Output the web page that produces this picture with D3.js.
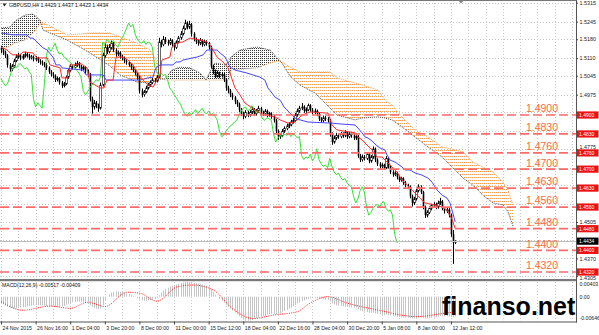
<!DOCTYPE html>
<html><head><meta charset="utf-8">
<script src="https://cdn.jsdelivr.net/npm/d3@7"></script>
<style>body{margin:0;background:#fff}svg{display:block}</style>
</head><body><svg id="c" width="599" height="335"></svg>
<script>
// ---------- data ----------
const title = "GBPUSD,H4 1.4429 1.4437 1.4423 1.4434";
const macdTitle = "MACD(12,26,9) -0.00517 -0.00409";
const firstOpen = 1.5148;
const closes = [1.5140,1.5132,1.5120,1.5085,1.5070,1.5080,1.5100,1.5115,1.5120,1.5110,
1.5118,1.5125,1.5120,1.5112,1.5115,1.5105,1.5110,1.5100,1.5095,1.5090,
1.5085,1.5075,1.5060,1.5050,1.5045,1.5030,1.5035,1.5020,1.5008,1.5015,
1.5040,1.5065,1.5080,1.5075,1.5085,1.5090,1.5080,1.5070,1.5075,1.5060,
1.5050,1.4960,1.4930,1.4945,1.4935,1.4925,1.5010,1.5120,1.5150,1.5135,
1.5150,1.5165,1.5140,1.5125,1.5130,1.5115,1.5110,1.5100,1.5095,1.5085,
1.5075,1.5065,1.5055,1.5040,1.4990,1.4975,1.4985,1.5000,1.5010,1.5020,
1.5030,1.5025,1.5040,1.5170,1.5160,1.5180,1.5170,1.5165,1.5175,1.5160,
1.5150,1.5170,1.5185,1.5200,1.5220,1.5240,1.5225,1.5235,1.5200,1.5180,
1.5170,1.5165,1.5175,1.5160,1.5170,1.5165,1.5150,1.5080,1.5060,1.5045,
1.5055,1.5045,1.5050,1.5030,1.5000,1.4990,1.4975,1.4965,1.4950,1.4940,
1.4920,1.4905,1.4895,1.4910,1.4900,1.4910,1.4920,1.4905,1.4915,1.4925,
1.4910,1.4905,1.4915,1.4900,1.4905,1.4895,1.4880,1.4840,1.4820,1.4825,
1.4840,1.4850,1.4860,1.4865,1.4875,1.4880,1.4900,1.4915,1.4925,1.4930,
1.4915,1.4920,1.4935,1.4920,1.4910,1.4915,1.4905,1.4885,1.4880,1.4890,
1.4885,1.4880,1.4830,1.4800,1.4815,1.4825,1.4820,1.4830,1.4825,1.4835,
1.4820,1.4830,1.4825,1.4815,1.4820,1.4750,1.4735,1.4745,1.4740,1.4755,
1.4730,1.4745,1.4775,1.4735,1.4720,1.4710,1.4715,1.4705,1.4740,1.4710,
1.4690,1.4680,1.4685,1.4670,1.4660,1.4665,1.4650,1.4640,1.4635,1.4600,
1.4575,1.4590,1.4620,1.4635,1.4615,1.4560,1.4530,1.4540,1.4555,1.4565,
1.4570,1.4560,1.4575,1.4580,1.4555,1.4545,1.4550,1.4530,1.4460,1.4429,
1.4434];
const highs = [1.5155,1.5148,1.5138,1.5125,1.5092,1.5088,1.5108,1.5124,1.5130,1.5126,
1.5125,1.5134,1.5130,1.5126,1.5122,1.5120,1.5118,1.5115,1.5106,1.5102,
1.5096,1.5092,1.5080,1.5066,1.5058,1.5050,1.5042,1.5040,1.5026,1.5022,
1.5046,1.5072,1.5088,1.5086,1.5094,1.5100,1.5096,1.5085,1.5084,1.5080,
1.5068,1.5055,1.4968,1.4955,1.4952,1.4942,1.5020,1.5130,1.5165,1.5160,
1.5162,1.5175,1.5170,1.5146,1.5138,1.5135,1.5122,1.5116,1.5106,1.5100,
1.5090,1.5080,1.5070,1.5060,1.5045,1.4998,1.4992,1.5008,1.5018,1.5028,
1.5038,1.5036,1.5048,1.5185,1.5178,1.5192,1.5188,1.5178,1.5184,1.5180,
1.5166,1.5176,1.5192,1.5210,1.5230,1.5252,1.5246,1.5248,1.5240,1.5206,
1.5186,1.5178,1.5184,1.5180,1.5178,1.5176,1.5170,1.5156,1.5086,1.5068,
1.5064,1.5060,1.5058,1.5055,1.5036,1.5008,1.4996,1.4982,1.4970,1.4956,
1.4946,1.4926,1.4912,1.4918,1.4916,1.4918,1.4930,1.4926,1.4922,1.4934,
1.4930,1.4916,1.4922,1.4920,1.4912,1.4910,1.4900,1.4886,1.4846,1.4834,
1.4848,1.4858,1.4868,1.4874,1.4882,1.4890,1.4908,1.4924,1.4934,1.4944,
1.4936,1.4928,1.4942,1.4940,1.4926,1.4924,1.4920,1.4910,1.4892,1.4898,
1.4896,1.4892,1.4886,1.4836,1.4824,1.4834,1.4832,1.4838,1.4836,1.4844,
1.4840,1.4838,1.4836,1.4832,1.4828,1.4826,1.4756,1.4754,1.4752,1.4762,
1.4760,1.4752,1.4784,1.4780,1.4740,1.4726,1.4722,1.4720,1.4748,1.4745,
1.4716,1.4696,1.4692,1.4690,1.4676,1.4672,1.4670,1.4656,1.4646,1.4640,
1.4606,1.4598,1.4628,1.4644,1.4640,1.4620,1.4566,1.4548,1.4562,1.4572,
1.4578,1.4576,1.4584,1.4594,1.4586,1.4560,1.4558,1.4556,1.4536,1.4475,
1.4437];
const lows = [1.5128,1.5122,1.5110,1.5075,1.5060,1.5062,1.5074,1.5095,1.5108,1.5102,
1.5104,1.5112,1.5112,1.5104,1.5105,1.5098,1.5098,1.5092,1.5086,1.5082,
1.5076,1.5066,1.5052,1.5042,1.5036,1.5022,1.5024,1.5012,1.5000,1.5002,
1.5010,1.5034,1.5060,1.5068,1.5070,1.5078,1.5072,1.5062,1.5064,1.5052,
1.5040,1.4950,1.4905,1.4920,1.4925,1.4912,1.4920,1.5005,1.5112,1.5125,
1.5128,1.5142,1.5132,1.5115,1.5118,1.5108,1.5102,1.5092,1.5086,1.5078,
1.5066,1.5058,1.5046,1.5030,1.4980,1.4965,1.4968,1.4980,1.4994,1.5004,
1.5014,1.5018,1.5020,1.5035,1.5150,1.5154,1.5162,1.5156,1.5158,1.5150,
1.5138,1.5144,1.5164,1.5178,1.5194,1.5214,1.5216,1.5218,1.5190,1.5172,
1.5162,1.5156,1.5158,1.5152,1.5154,1.5156,1.5142,1.5072,1.5050,1.5036,
1.5038,1.5036,1.5038,1.5022,1.4990,1.4980,1.4966,1.4956,1.4940,1.4930,
1.4910,1.4896,1.4884,1.4888,1.4892,1.4894,1.4904,1.4898,1.4898,1.4908,
1.4902,1.4896,1.4898,1.4892,1.4894,1.4886,1.4872,1.4832,1.4808,1.4812,
1.4818,1.4834,1.4844,1.4852,1.4858,1.4868,1.4874,1.4894,1.4908,1.4918,
1.4908,1.4908,1.4914,1.4912,1.4902,1.4904,1.4896,1.4878,1.4872,1.4874,
1.4878,1.4872,1.4820,1.4790,1.4794,1.4808,1.4812,1.4814,1.4816,1.4818,
1.4812,1.4814,1.4816,1.4808,1.4808,1.4742,1.4726,1.4728,1.4732,1.4734,
1.4722,1.4724,1.4738,1.4726,1.4712,1.4702,1.4704,1.4698,1.4700,1.4702,
1.4682,1.4672,1.4674,1.4662,1.4652,1.4654,1.4642,1.4632,1.4626,1.4592,
1.4562,1.4568,1.4584,1.4614,1.4608,1.4552,1.4520,1.4522,1.4534,1.4548,
1.4558,1.4552,1.4554,1.4568,1.4548,1.4536,1.4538,1.4522,1.4450,1.4350,
1.4423];
// Ichimoku lines, [bar, price]
const tenkan = [[0,1.5151],[2.8,1.5140],[4.2,1.5129],[5.5,1.5122],[8.8,1.5122],[10.2,1.5133],[14.8,1.5129],[16.6,1.5111],[21.3,1.5111],[22.7,1.5085],[27.3,1.5074],[28.2,1.5037],[30.5,1.5037],[31.9,1.5085],[35.1,1.5085],[36.5,1.5092],[39.8,1.5074],[41.1,1.5022],[45.8,1.5000],[47.6,1.5000],[49,1.5029],[51.8,1.5029],[53.2,1.5114],[56.4,1.5114],[58.7,1.5103],[61,1.5085],[62.9,1.5059],[65.6,1.5029],[68,1.5011],[70.3,1.5003],[72.1,1.5029],[73.5,1.5048],[74.4,1.5103],[78.1,1.5114],[79,1.5151],[81.4,1.5166],[84.1,1.5170],[87.4,1.5184],[92,1.5177],[95.2,1.5170],[96.6,1.5159],[98,1.5140],[99.9,1.5114],[102.6,1.5096],[105,1.5074],[108.2,1.5000],[110.5,1.4974],[112.8,1.4944],[116,1.4926],[118.8,1.4911],[122,1.4900],[126.7,1.4893],[129,1.4882],[132.7,1.4870],[135.9,1.4874],[139.2,1.4900],[142.9,1.4911],[151.2,1.4907],[153,1.4863],[155.3,1.4845],[161.3,1.4837],[163.7,1.4834],[165,1.4819],[166.9,1.4808],[169.2,1.4789],[171.5,1.4771],[173.8,1.4745],[176.1,1.4745],[178.5,1.4726],[180.8,1.4708],[183.1,1.4689],[185.4,1.4660],[188.2,1.4638],[191.4,1.4612],[193.7,1.4593],[196,1.4575],[200.6,1.4568],[203.9,1.4560],[206.2,1.4549],[208.5,1.4515],[210,1.4480]];
const kijun = [[0,1.5203],[5.5,1.5196],[12,1.5196],[13.4,1.5184],[14.8,1.5184],[16.6,1.5170],[19.4,1.5148],[21.3,1.5140],[24,1.5114],[25.4,1.5085],[27.3,1.5085],[28.2,1.5074],[37.9,1.5066],[39.3,1.5048],[47.2,1.5048],[48.6,1.5029],[64.3,1.5029],[68,1.5037],[70.3,1.5040],[71.2,1.5066],[72.1,1.5077],[73.5,1.5085],[79.5,1.5085],[80.9,1.5096],[82.8,1.5096],[84.1,1.5103],[88.8,1.5111],[90.6,1.5114],[93.4,1.5122],[95.2,1.5140],[99.9,1.5140],[101.3,1.5129],[103.6,1.5114],[105.9,1.5077],[108.2,1.5066],[113.7,1.5055],[119.7,1.5040],[122,1.5029],[123.4,1.5000],[125.3,1.4981],[126.7,1.4966],[129,1.4955],[129.9,1.4944],[130.8,1.4930],[133.6,1.4907],[135.9,1.4889],[138.2,1.4882],[141.9,1.4874],[153,1.4870],[156.7,1.4867],[163.7,1.4863],[165,1.4852],[166.9,1.4834],[168.3,1.4819],[169.7,1.4815],[171.5,1.4804],[173.4,1.4789],[175.2,1.4778],[177.5,1.4771],[178.5,1.4752],[179.8,1.4734],[182.2,1.4726],[185.4,1.4708],[186.8,1.4697],[189.1,1.4697],[191.4,1.4686],[194.6,1.4678],[197.4,1.4667],[199.3,1.4652],[201.6,1.4623],[203.9,1.4604],[206.2,1.4593],[207.6,1.4575],[208.5,1.4549],[210,1.4505]];
const chikouShift = 26;
const kumoBars = [0,4.2,6.5,11.1,14.8,18,19.4,22.7,30.5,36.5,41.1,50.4,55,62.9,68.9,72.1,74,75.8,79,82.8,87.4,92,94.8,96.6,98.9,103.6,105.4,106.3,110.5,118.4,124.4,127.6,129.9,133.6,138.2,145.2,152.1,155.3,163.7,166.9,174.3,177.5,180.8,185.4,191.4,197.4,203.9,209.9,213.6,218.2,222.8,227.5,232.1,234.4,236.7];
const spanA = [1.5221,1.5225,1.5247,1.5269,1.5273,1.5251,1.5214,1.5203,1.5177,1.5151,1.5129,1.5081,1.5048,1.5022,1.5018,1.5029,1.5033,1.5033,1.5066,1.5077,1.5074,1.5055,1.5029,1.5059,1.5092,1.5085,1.5096,1.5114,1.5140,1.5151,1.5140,1.5111,1.5092,1.5044,1.5011,1.4981,1.4926,1.4900,1.4882,1.4889,1.4893,1.4889,1.4882,1.4856,1.4819,1.4782,1.4745,1.4697,1.4667,1.4641,1.4604,1.4575,1.4568,1.4542,1.4490];
const spanB = [1.5140,1.5155,1.5166,1.5177,1.5203,1.5236,1.5240,1.5229,1.5196,1.5199,1.5203,1.5203,1.5188,1.5166,1.5140,1.5096,1.5037,1.5029,1.5029,1.5029,1.5029,1.5029,1.5029,1.5029,1.5029,1.5029,1.5029,1.5066,1.5070,1.5074,1.5092,1.5099,1.5096,1.5077,1.5059,1.5059,1.5059,1.5037,1.5018,1.5011,1.4992,1.4955,1.4937,1.4893,1.4845,1.4819,1.4782,1.4771,1.4763,1.4726,1.4708,1.4689,1.4652,1.4623,1.4568];
// MACD
const macdMain = [-0.0017,-0.0020,-0.0023,-0.0026,-0.0029,
-0.0031,-0.0032,-0.0031,-0.0030,-0.0029,-0.0028,-0.0027,-0.0026,-0.0025,-0.0024,-0.0023,
-0.0022,-0.0022,-0.0023,-0.0023,-0.0024,-0.0025,-0.0026,-0.0027,-0.0027,-0.0028,-0.0028,-0.0027,-0.0026,-0.0024,-0.0021,
-0.0019,-0.0017,-0.0015,-0.0014,-0.0013,-0.0013,-0.0013,-0.0014,-0.0015,-0.0016,
-0.0022,-0.0027,-0.0030,-0.0032,-0.0033,-0.0031,-0.0022,
-0.0010,0.0000,0.0006,0.0011,0.0013,0.0014,0.0014,0.0013,0.0012,0.0011,0.0009,0.0007,0.0005,
0.0002,-0.0001,-0.0004,-0.0007,-0.0010,-0.0011,-0.0011,-0.0010,-0.0009,-0.0008,-0.0006,-0.0004,
0.0004,0.0011,0.0017,0.0021,0.0024,0.0027,0.0029,0.0030,0.0032,0.0034,0.0036,0.0038,0.0040,0.0040,0.0039,0.0038,0.0037,0.0036,0.0035,0.0034,
0.0032,0.0030,0.0029,0.0027,0.0020,0.0012,0.0005,0.0000,
-0.0006,-0.0011,-0.0016,-0.0022,-0.0027,-0.0032,-0.0037,-0.0042,-0.0047,-0.0052,-0.0057,-0.0061,
-0.0064,-0.0064,-0.0063,-0.0062,-0.0060,-0.0058,-0.0056,-0.0054,
-0.0052,-0.0050,-0.0048,-0.0046,-0.0045,-0.0046,-0.0047,-0.0046,-0.0044,-0.0041,-0.0038,-0.0035,-0.0032,-0.0029,-0.0026,
-0.0022,-0.0018,-0.0015,-0.0012,-0.0010,-0.0008,-0.0006,-0.0005,-0.0004,-0.0004,-0.0004,-0.0005,-0.0006,-0.0007,-0.0008,-0.0009,-0.0013,
-0.0018,-0.0021,-0.0023,-0.0024,-0.0025,-0.0026,-0.0027,-0.0027,-0.0028,-0.0028,-0.0029,-0.0029,-0.0033,-0.0037,-0.0039,-0.0040,-0.0041,-0.0043,
-0.0043,-0.0042,-0.0044,-0.0046,-0.0047,-0.0048,-0.0049,-0.0048,-0.0049,-0.0050,-0.0051,-0.0052,-0.0053,-0.0054,-0.0055,-0.0055,-0.0056,-0.0056,-0.0057,-0.0058,
-0.0058,-0.0057,-0.0056,-0.0056,-0.0057,-0.0058,-0.0058,-0.0057,-0.0056,-0.0055,-0.0054,-0.0053,-0.0052,-0.0052,-0.0052,-0.0052,-0.0053,-0.0054,-0.0055,-0.00517];
const macdSignal = [[0,-0.0013],[10.2,-0.0036],[22.7,-0.0025],[31.9,-0.0031],[40.2,-0.0015],[48.1,-0.0026],[58.3,0.0012],[64.3,0.0009],[72.1,-0.0012],[81.4,0.0026],[88.8,0.0031],[98,0.0018],[107.3,-0.0033],[116.5,-0.0058],[125.8,-0.0049],[136.9,-0.0040],[142.9,-0.0017],[151.2,0.0000],[160,-0.0017],[173.8,-0.0035],[192.3,-0.0053],[206.2,-0.0043],[210,-0.00409]];
const macdTicks = [0.00403, 0, -0.00646];
const macdTickLabels = ["0.00403","0.00","-0.00646"];
// levels & axes
const levels = [1.4900,1.4830,1.4760,1.4700,1.4630,1.4560,1.4480,1.4400,1.4320];
const priceTicks = [1.5315,1.5245,1.5180,1.5110,1.5045,1.4975,1.4910,1.4840,1.4775,1.4705,1.4640,1.4570,1.4505,1.4440,1.4370,1.4305];
const currentPrice = 1.4434;
const timeBars = [0,16,32,48,64,80,96,112,128,144,160,176,192,208];
const timeLabels = ["24 Nov 2015","26 Nov 16:00","1 Dec 04:00","3 Dec 20:00","8 Dec 00:00","11 Dec 00:00","15 Dec 12:00","18 Dec 04:00","22 Dec 16:00","28 Dec 04:00","30 Dec 20:00","5 Jan 08:00","8 Jan 00:00","12 Jan 12:00"];
const watermark = "finanso.net";

// ---------- drawing ----------
const FONT = "'Liberation Sans', Arial, sans-serif";
const svg = d3.select("#c");
const plotR = 576, mainB = 279, macdT = 281.5, macdB = 321.5;
const x = d3.scaleLinear().domain([0, 208]).range([1, 1 + 208 * 2.163]);
const y = d3.scaleLinear().domain([1.42942, 1.53248]).range([279, 0]);
const ym = d3.scaleLinear().domain([-0.00646, 0.00403]).range([321, 281.5]);
const cx = v => Math.round(v) + 0.5;

svg.append("rect").attr("width", 599).attr("height", 335).attr("fill", "#fff");
const defs = svg.append("defs");
defs.append("clipPath").attr("id", "cm").append("rect").attr("x", 0).attr("y", 0).attr("width", plotR).attr("height", mainB);
defs.append("clipPath").attr("id", "cd").append("rect").attr("x", 0).attr("y", macdT).attr("width", plotR).attr("height", macdB - macdT);
function pat(id, color, w, h) {
  const p = defs.append("pattern").attr("id", id).attr("patternUnits", "userSpaceOnUse").attr("width", w).attr("height", h);
  p.append("rect").attr("width", 1).attr("height", 1).attr("fill", color);
}
pat("po", "#f4a050", 2, 3);
pat("pk", "#333", 2, 2);

// grid
const gridBars = d3.range(0, 266, 8);
const grid = svg.append("g").attr("stroke", "#c6c6c6").attr("stroke-dasharray", "1,2");
grid.selectAll("line.v").data(gridBars).join("line").attr("class", "v")
  .attr("x1", d => cx(x(d))).attr("x2", d => cx(x(d))).attr("y1", 0).attr("y2", macdB);
grid.selectAll("line.h").data(priceTicks).join("line").attr("class", "h")
  .attr("x1", 0).attr("x2", plotR).attr("y1", d => cx(y(d))).attr("y2", d => cx(y(d)));

const main = svg.append("g").attr("clip-path", "url(#cm)");

// cloud
const kumo = kumoBars.map((b, i) => ({ b, a: spanA[i], s: spanB[i] }));
main.append("path").datum(kumo).attr("fill", "url(#po)")
  .attr("d", d3.area().x(d => x(d.b)).y0(d => y(d.a)).y1(d => y(Math.max(d.a, d.s))));
main.append("path").datum(kumo).attr("fill", "url(#pk)")
  .attr("d", d3.area().x(d => x(d.b)).y0(d => y(d.s)).y1(d => y(Math.max(d.a, d.s))));
main.append("path").datum(kumo).attr("fill", "none").attr("stroke", "#f4a050").attr("stroke-dasharray", "1,1")
  .attr("d", d3.line().x(d => x(d.b)).y(d => y(d.s)));
main.append("path").datum(kumo).attr("fill", "none").attr("stroke", "#444").attr("stroke-dasharray", "1,1")
  .attr("d", d3.line().x(d => x(d.b)).y(d => y(d.a)));

// candles
const opens = closes.map((c, i) => i ? closes[i - 1] : firstOpen);
const cg = main.append("g");
cg.selectAll("line").data(closes).join("line")
  .attr("x1", (d, i) => cx(x(i))).attr("x2", (d, i) => cx(x(i)))
  .attr("y1", (d, i) => y(highs[i])).attr("y2", (d, i) => y(lows[i]))
  .attr("stroke", "#000").attr("stroke-width", 1);
cg.selectAll("rect").data(closes).join("rect")
  .attr("x", (d, i) => cx(x(i)) - 0.8).attr("width", 1.6)
  .attr("y", (d, i) => y(Math.max(d, opens[i])))
  .attr("height", (d, i) => Math.max(0.8, Math.abs(y(d) - y(opens[i]))))
  .attr("fill", (d, i) => d >= opens[i] ? "#fff" : "#000")
  .attr("stroke", "#000").attr("stroke-width", (d, i) => d >= opens[i] ? 0.6 : 0);

// ichimoku lines
const pl = d3.line().x(d => x(d[0])).y(d => y(d[1]));
main.append("path").datum(closes.slice(chikouShift).map((c, j) => [j, c]))
  .attr("fill", "none").attr("stroke", "#33e033").attr("stroke-width", 1).attr("d", pl);
main.append("path").datum(kijun).attr("fill", "none").attr("stroke", "#4646ff").attr("stroke-width", 1).attr("d", pl);
main.append("path").datum(tenkan).attr("fill", "none").attr("stroke", "#ff2c2c").attr("stroke-width", 1).attr("d", pl);

// current price line
svg.append("line").attr("x1", 0).attr("x2", plotR).attr("y1", cx(y(currentPrice))).attr("y2", cx(y(currentPrice)))
  .attr("stroke", "#bdbdbd").attr("stroke-width", 1);

// level lines & labels
const lv = svg.append("g");
lv.selectAll("line").data(levels).join("line")
  .attr("x1", 0).attr("x2", plotR).attr("y1", d => y(d)).attr("y2", d => y(d))
  .attr("stroke", "#ff6b6b").attr("stroke-width", 1.7).attr("stroke-dasharray", "9,4");
lv.selectAll("text").data(levels).join("text")
  .attr("x", 558).attr("y", d => y(d) - 2.6).attr("text-anchor", "end")
  .attr("font-family", FONT).attr("font-size", 10.5).attr("fill", "#fa6a3c")
  .text(d => d.toFixed(4));

// MACD
const md = svg.append("g").attr("clip-path", "url(#cd)");
md.selectAll("line").data(macdMain).join("line")
  .attr("x1", (d, i) => cx(x(i))).attr("x2", (d, i) => cx(x(i)))
  .attr("y1", ym(0)).attr("y2", d => ym(d))
  .attr("stroke", "#c4c4c4").attr("stroke-width", 1);
md.append("path").datum(macdSignal).attr("fill", "none").attr("stroke", "#ff2020").attr("stroke-width", 1)
  .attr("stroke-dasharray", "1,1.3")
  .attr("d", d3.line().x(d => x(d[0])).y(d => ym(d[1])).curve(d3.curveMonotoneX));

// frame
svg.append("line").attr("x1", 0).attr("x2", plotR).attr("y1", 0.5).attr("y2", 0.5).attr("stroke", "#777");
svg.append("rect").attr("x", 0).attr("y", 279).attr("width", plotR + 1).attr("height", 2.2).attr("fill", "#7a7a7a");
svg.append("line").attr("x1", 0).attr("x2", plotR + 1).attr("y1", macdB + 0.5).attr("y2", macdB + 0.5).attr("stroke", "#555");
svg.append("line").attr("x1", plotR + 0.5).attr("x2", plotR + 0.5).attr("y1", 0).attr("y2", macdB + 1).attr("stroke", "#555");
svg.append("path").attr("d", "M458,0.5L464,0.5L461,3.5Z").attr("fill", "#888");

// price axis (labels that sit under a level box are hidden or nudged clear, as the terminal does)
const boxPrices = levels.concat([currentPrice]);
const ax = svg.append("g").attr("transform", `translate(${plotR},0)`)
  .call(d3.axisRight(y).tickValues(priceTicks).tickFormat(d3.format(".4f")).tickSize(2).tickPadding(1.5));
ax.select(".domain").remove();
ax.attr("font-family", FONT).attr("font-size", 5.4);
ax.selectAll("line").attr("stroke", "#444");
ax.selectAll("text").attr("fill", "#222");
ax.selectAll(".tick").each(function (d) {
  const near = boxPrices.map(b => y(d) - y(b)).sort((a, b) => Math.abs(a) - Math.abs(b))[0];
  const t = d3.select(this).select("text");
  if (Math.abs(near) < 3.5) t.remove();
  else if (Math.abs(near) < 5.8) t.attr("y", (near > 0 ? 1 : -1) * (5.8 - Math.abs(near)));
});

// level boxes
const bx = svg.append("g");
bx.selectAll("rect").data(levels).join("rect")
  .attr("x", 577).attr("y", d => y(d) - 3.6).attr("width", 21.5).attr("height", 7.2).attr("fill", "#f01010");
bx.selectAll("text").data(levels).join("text")
  .attr("x", 579).attr("y", d => y(d) + 1.8).attr("font-family", FONT).attr("font-size", 5).attr("fill", "#fff")
  .text(d => d.toFixed(4));
svg.append("rect").attr("x", 577).attr("y", y(currentPrice) - 3.6).attr("width", 21.5).attr("height", 7.2).attr("fill", "#000");
svg.append("text").attr("x", 579).attr("y", y(currentPrice) + 1.8).attr("font-family", FONT).attr("font-size", 5)
  .attr("fill", "#fff").text(currentPrice.toFixed(4));

// MACD axis labels
const mOff = [2.6, 0, -2.6];
svg.append("g").selectAll("text").data(macdTicks).join("text")
  .attr("x", 579.5).attr("y", (d, i) => ym(d) + mOff[i] + 1.9)
  .attr("font-family", FONT).attr("font-size", 5.2).attr("fill", "#222")
  .text((d, i) => macdTickLabels[i]);

// time axis
const tx = svg.append("g").attr("transform", `translate(0,${macdB})`)
  .call(d3.axisBottom(x).tickValues(timeBars).tickFormat((d, i) => timeLabels[i]).tickSize(3).tickPadding(1.5));
tx.select(".domain").remove();
tx.attr("font-family", FONT).attr("font-size", 5.2);
tx.selectAll("line").attr("stroke", "#444");
tx.selectAll("text").attr("text-anchor", "start").attr("dx", 1).attr("fill", "#222");

// titles
svg.append("path").attr("d", "M2.5,3.5L6.5,3.5L4.5,6.5Z").attr("fill", "#222");
svg.append("text").attr("x", 9).attr("y", 7.3).attr("font-family", FONT).attr("font-size", 5.2).attr("fill", "#111").text(title);
svg.append("text").attr("x", 2).attr("y", 287).attr("font-family", FONT).attr("font-size", 5.1).attr("fill", "#111").text(macdTitle);

// watermark
svg.append("text").attr("x", 442).attr("y", 315).attr("font-family", FONT).attr("font-weight", "bold")
  .attr("font-size", 25).attr("fill", "#000").text(watermark);
</script>
</body></html>
